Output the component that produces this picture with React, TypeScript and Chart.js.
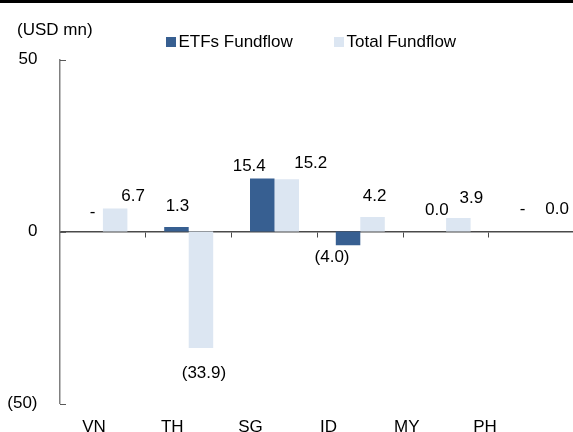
import React, { useEffect, useRef } from "react";
import { Chart, registerables } from "chart.js";

Chart.register(...registerables);

const categories = ["VN", "TH", "SG", "ID", "MY", "PH"];
const etfFundflow: (number | null)[] = [null, 1.3, 15.4, -4.0, 0.0, null];
const totalFundflow: (number | null)[] = [6.7, -33.9, 15.2, 4.2, 3.9, 0.0];
const yTickValues = [-50, 0, 50];
const seriesNames = ["ETFs Fundflow", "Total Fundflow"];
const unitLabel = "(USD mn)";

// label nudges (px) – text placement only
const etfLabelDx = [2, 1, -13, -16, 3, 3];
const etfLabelDist = [19, 21, 12, 12, 21, 22];
const totalLabelDx = [18, 3, 24, 2, 13, 13];
const totalLabelDist = [12, 25, 16, 21, 20, 22];

const FONT = '"Liberation Sans", Arial, sans-serif';
const DARK = "#375F91";
const LIGHT = "#DCE6F2";

const fmt = (v: number | null) =>
  v === null ? "-" : v < 0 ? `(${Math.abs(v).toFixed(1)})` : v.toFixed(1);

const decorPlugin = {
  id: "decor",
  afterDraw(chart: any) {
    const ctx = chart.ctx;
    const yScale = chart.scales.y;
    const area = chart.chartArea;
    ctx.save();
    // top rule
    ctx.fillStyle = "#000";
    ctx.fillRect(0, 0, 573, 3);
    // inward y tick marks
    ctx.strokeStyle = "#595959";
    ctx.lineWidth = 1;
    yTickValues.forEach((v) => {
      const y = Math.round(yScale.getPixelForValue(v)) + 0.5;
      ctx.beginPath();
      ctx.moveTo(area.left, y);
      ctx.lineTo(area.left + 6, y);
      ctx.stroke();
    });
    ctx.font = `17px ${FONT}`;
    ctx.textBaseline = "middle";
    ctx.textAlign = "left";
    ctx.fillStyle = "#000";
    ctx.fillText(unitLabel, 17, 30.5);
    // legend
    const items = [
      { x: 166, color: DARK, text: chart.data.datasets[0].label },
      { x: 334, color: LIGHT, text: chart.data.datasets[1].label },
    ];
    items.forEach((it) => {
      ctx.fillStyle = it.color;
      ctx.fillRect(it.x, 37, 10, 10);
      ctx.fillStyle = "#000";
      ctx.fillText(it.text, it.x + 12.5, 42.5);
    });
    ctx.restore();
  },
  afterDatasetsDraw(chart: any) {
    const ctx = chart.ctx;
    const yScale = chart.scales.y;
    const dxs = [etfLabelDx, totalLabelDx];
    const dists = [etfLabelDist, totalLabelDist];
    ctx.save();
    ctx.font = `17px ${FONT}`;
    ctx.textAlign = "center";
    ctx.textBaseline = "middle";
    ctx.fillStyle = "#000";
    chart.data.datasets.forEach((ds: any, di: number) => {
      const meta = chart.getDatasetMeta(di);
      meta.data.forEach((el: any, i: number) => {
        const v = ds.data[i] as number | null;
        const x = el.x + dxs[di][i];
        let y: number;
        if (v === null || v >= 0) {
          y = yScale.getPixelForValue(v ?? 0) - dists[di][i];
        } else {
          y = yScale.getPixelForValue(v) + dists[di][i];
        }
        ctx.fillText(fmt(v), x, y);
      });
    });
    ctx.restore();
  },
};

export default function App() {
  const ref = useRef<HTMLCanvasElement>(null);
  useEffect(() => {
    if (!ref.current) return;
    const chart = new Chart(ref.current, {
      type: "bar",
      data: {
        labels: categories,
        datasets: [
          {
            label: seriesNames[0],
            data: etfFundflow,
            backgroundColor: DARK,
            barPercentage: 1,
            categoryPercentage: 0.571,
          },
          {
            label: seriesNames[1],
            data: totalFundflow,
            backgroundColor: LIGHT,
            barPercentage: 1,
            categoryPercentage: 0.571,
          },
        ],
      },
      options: {
        animation: false,
        responsive: false,
        layout: { padding: { top: 59.5, left: 0, right: 5.2, bottom: 16.5 } },
        plugins: { legend: { display: false }, tooltip: { enabled: false } },
        scales: {
          x: {
            type: "category",
            axis: "x",
            position: { y: 0 } as any,
            offset: true,
            ticks: { display: false },
            grid: {
              display: true,
              offset: true,
              drawOnChartArea: false,
              drawTicks: true,
              tickLength: 5,
              color: "#4a4a4a",
              lineWidth: 1,
            },
            border: { display: true, color: "#4a4a4a", width: 1.5 },
          },
          xl: {
            type: "linear",
            axis: "x",
            position: "bottom",
            offset: false,
            min: 0.065,
            max: 6.648,
            grid: { display: false, offset: false },
            border: { display: false },
            ticks: {
              autoSkip: false,
              maxRotation: 0,
              padding: 6,
              color: "#000",
              font: { family: FONT, size: 17 },
              callback: (v: any) => categories[Math.round(Number(v) - 0.5)] ?? "",
            },
            afterBuildTicks: (s: any) => {
              s.ticks = categories.map((_, i) => ({ value: i + 0.5 }));
            },
            afterFit: (s: any) => {
              s.height = 30;
            },
          },
          y: {
            type: "linear",
            position: "left",
            min: yTickValues[0],
            max: yTickValues[yTickValues.length - 1],
            afterBuildTicks: (s: any) => {
              s.ticks = yTickValues.map((v) => ({ value: v }));
            },
            ticks: {
              padding: 22.5,
              color: "#000",
              font: { family: FONT, size: 17 },
              callback: (v: any) => (Number(v) < 0 ? `(${-Number(v)})` : `${v}`),
            },
            grid: {
              display: false,
              drawOnChartArea: false,
              drawTicks: false,
              tickLength: 0,
            },
            border: { display: true, color: "#808080", width: 1.5 },
            afterFit: (s: any) => {
              s.width = 60;
            },
          },
        },
      },
      plugins: [decorPlugin],
    });
    return () => chart.destroy();
  }, []);
  return (
    <div
      style={{
        position: "absolute",
        left: 0,
        top: 0,
        width: 573,
        height: 432,
        overflow: "hidden",
        background: "#fff",
      }}
    >
      <canvas ref={ref} width={580} height={450} style={{ width: 580, height: 450, display: "block" }} />
    </div>
  );
}
